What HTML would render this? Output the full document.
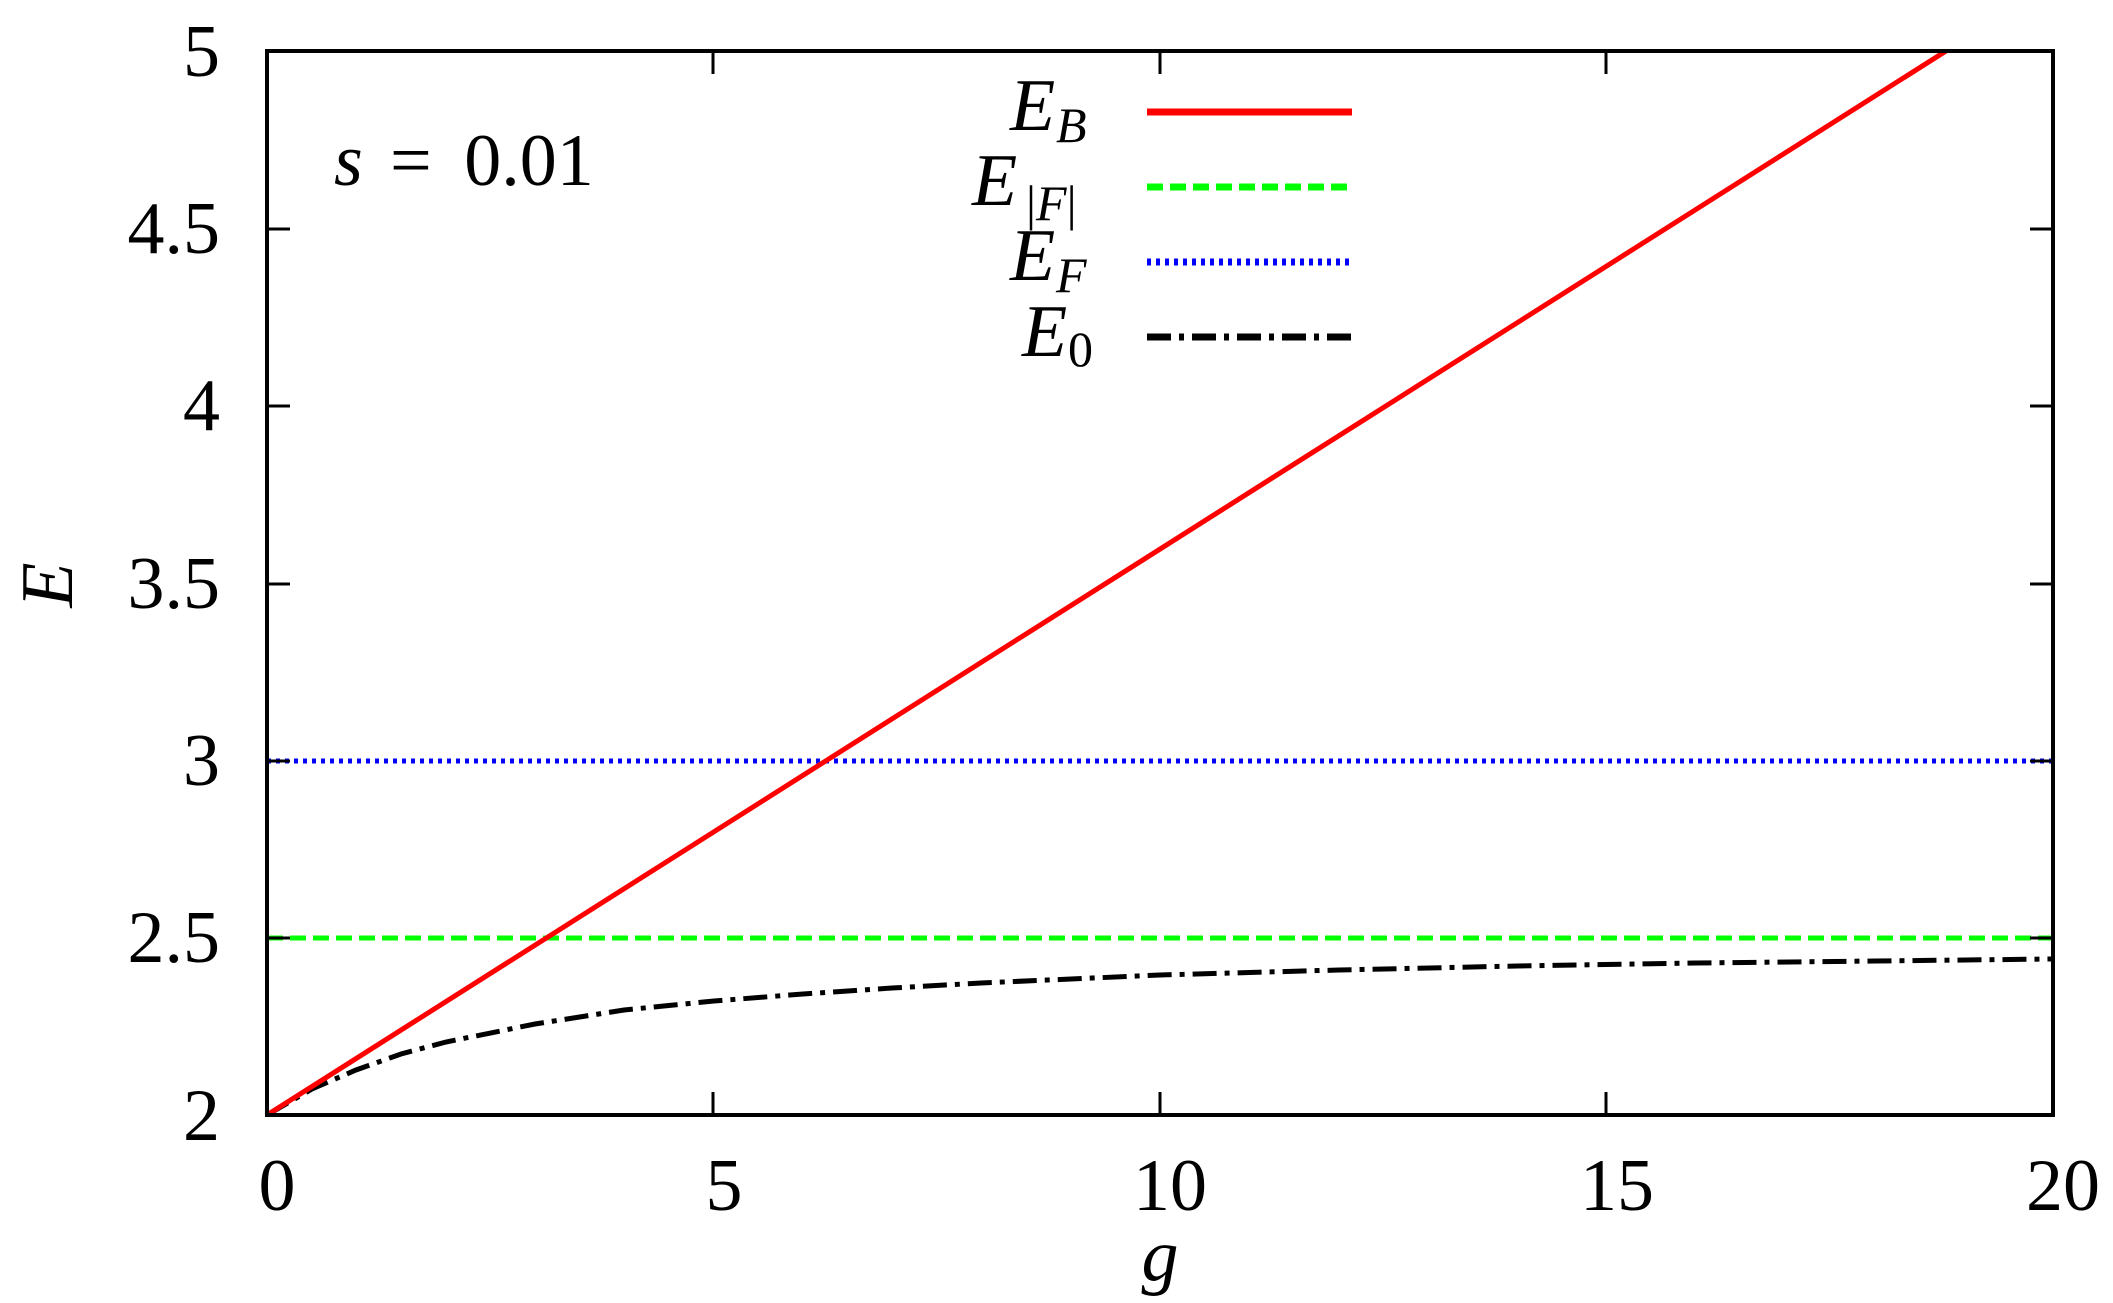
<!DOCTYPE html>
<html><head><meta charset="utf-8"><style>
html,body{margin:0;padding:0;background:#fff;}
svg{display:block;}
text{font-family:"Liberation Serif",serif;fill:#000;}
</style></head><body>
<svg width="2113" height="1303" viewBox="0 0 2113 1303" xmlns="http://www.w3.org/2000/svg">
<g font-size="74">
<text x="220" y="76" text-anchor="end">5</text>
<text x="220" y="253" text-anchor="end">4.5</text>
<text x="220" y="430" text-anchor="end">4</text>
<text x="220" y="608" text-anchor="end">3.5</text>
<text x="220" y="785" text-anchor="end">3</text>
<text x="220" y="962" text-anchor="end">2.5</text>
<text x="220" y="1140" text-anchor="end">2</text>
<text x="277" y="1210" text-anchor="middle">0</text>
<text x="724" y="1210" text-anchor="middle">5</text>
<text x="1170" y="1210" text-anchor="middle">10</text>
<text x="1617" y="1210" text-anchor="middle">15</text>
<text x="2063" y="1210" text-anchor="middle">20</text>
<text x="1160" y="1280" text-anchor="middle" font-style="italic">g</text>
<text x="0" y="0" transform="translate(72,585) rotate(-90)" text-anchor="middle" font-style="italic">E</text>
<text x="334" y="185" font-style="italic">s</text>
<text x="390" y="185" word-spacing="14">= 0.01</text>
</g>
<g font-size="74">
<text x="1010" y="130" font-style="italic">E</text><text x="1056" y="142" font-size="50" font-style="italic">B</text>
<text x="972" y="205" font-style="italic">E</text><text x="1026" y="220" font-size="50"><tspan>|</tspan><tspan font-style="italic">F</tspan><tspan>|</tspan></text>
<text x="1010" y="280" font-style="italic">E</text><text x="1056" y="292" font-size="50" font-style="italic">F</text>
<text x="1022" y="356" font-style="italic">E</text><text x="1068" y="366" font-size="50">0</text>
</g>
<g stroke-width="7" fill="none">
<line x1="1147" y1="112" x2="1352" y2="112" stroke="#ff0000"/>
<line x1="1147" y1="187" x2="1352" y2="187" stroke="#00ff00" stroke-dasharray="16 7"/>
<line x1="1147" y1="262" x2="1352" y2="262" stroke="#0000ff" stroke-dasharray="4 5"/>
<line x1="1147" y1="337" x2="1352" y2="337" stroke="#000" stroke-dasharray="24 8 5 8"/>
</g>
<g stroke-width="5" fill="none">
<line x1="267" y1="761" x2="2053" y2="761" stroke="#0000ff" stroke-dasharray="4 5"/>
<line x1="267" y1="938" x2="2053" y2="938" stroke="#00ff00" stroke-dasharray="16 7"/>
<polyline stroke="#000" stroke-dasharray="24 8 5 8" points="267,1115 312,1089 356,1070 401,1054 446,1042 535,1024 624,1010 714,1001 803,994 892,988 981,983 1160,975 1339,970 1517,966 1696,963 1875,961 2053,959"/>
<line x1="267" y1="1115" x2="1946" y2="51" stroke="#ff0000"/>
</g>
<g stroke="#000" stroke-width="3">
<line x1="267" y1="761" x2="290" y2="761"/><line x1="267" y1="938" x2="290" y2="938"/>
<line x1="267" y1="584" x2="290" y2="584"/><line x1="267" y1="406" x2="290" y2="406"/><line x1="267" y1="229" x2="290" y2="229"/>
<line x1="2053" y1="761" x2="2030" y2="761"/><line x1="2053" y1="938" x2="2030" y2="938"/>
<line x1="2053" y1="584" x2="2030" y2="584"/><line x1="2053" y1="406" x2="2030" y2="406"/><line x1="2053" y1="229" x2="2030" y2="229"/>
<line x1="713" y1="1115" x2="713" y2="1092"/><line x1="1160" y1="1115" x2="1160" y2="1092"/><line x1="1606" y1="1115" x2="1606" y2="1092"/>
<line x1="713" y1="51" x2="713" y2="74"/><line x1="1160" y1="51" x2="1160" y2="74"/><line x1="1606" y1="51" x2="1606" y2="74"/>
</g>
<rect x="267" y="51" width="1786" height="1064" fill="none" stroke="#000" stroke-width="4"/>
</svg>
</body></html>
